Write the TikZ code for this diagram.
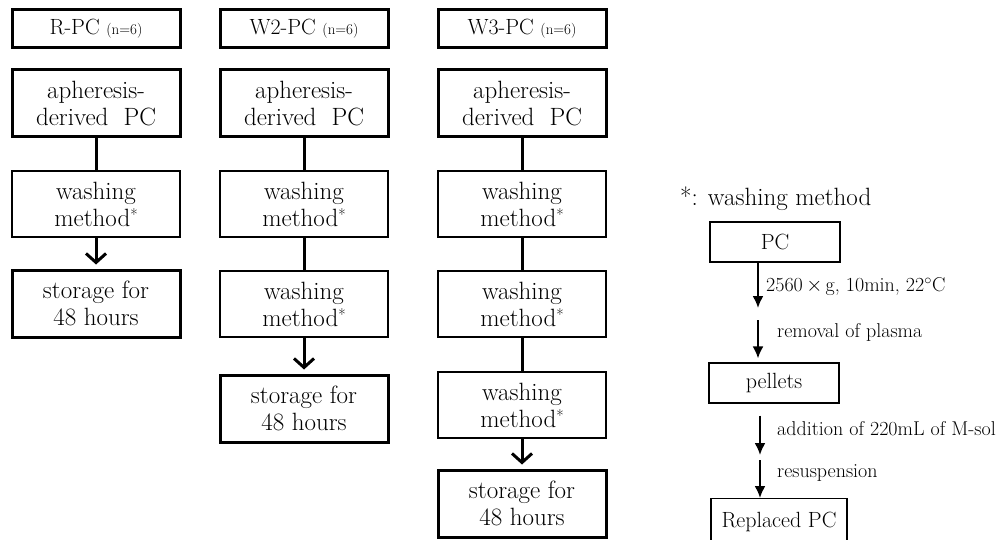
\documentclass[tikz,border=0pt]{standalone}
\usepackage{amsmath}
\usepackage{tikz}
\usetikzlibrary{arrows.meta}
\newcommand{\nsize}{\fontsize{15}{17}\selectfont}
\newcommand{\wstar}{\raisebox{6pt}{\fontsize{16}{16}\selectfont*}}

\begin{document}
\begin{tikzpicture}[x=1pt,y=-1pt,
  headbox/.style={draw,line width=3pt,minimum width=168pt,minimum height=38pt,inner sep=0pt,font=\fontsize{22}{25}\selectfont},
  bigbox/.style={draw,line width=3pt,minimum width=168pt,minimum height=67pt,align=center,inner sep=0pt,font=\fontsize{25}{27}\selectfont},
  washbox/.style={draw,line width=1.2pt,minimum width=168pt,minimum height=66pt,align=center,inner sep=0pt,font=\fontsize{25}{27}\selectfont},
  smallbox/.style={draw,line width=1.2pt,minimum width=130pt,minimum height=40pt,inner sep=0pt,font=\fontsize{22}{24}\selectfont},
  link/.style={line width=3pt},
  linkarr/.style={line width=3pt,-{Straight Barb[length=9pt,width=20pt]},shorten >=4pt},
  steparr/.style={line width=2pt,-{Latex[length=12pt,width=11pt]}},
  steplabel/.style={anchor=west,inner sep=0pt,font=\fontsize{20}{22}\selectfont}]
\useasboundingbox (0,0) rectangle (996,540);
% R-PC
\node[headbox] (rhead) at (96,29) {R-PC \nsize(n=6)};
\node[bigbox] (rsrc) at (96,103.5) {apheresis-\\derived\ \ PC};
\node[washbox] (rwash) at (96,204) {washing\\method\wstar};
\node[bigbox] (rstore) at (96,303.5) {storage for\\48 hours};
\draw[link] (rsrc) -- (rwash);
\draw[linkarr] (rwash) -- (rstore);
% W2-PC
\node[headbox] (wbhead) at (304,29) {W2-PC \nsize(n=6)};
\node[bigbox] (wbsrc) at (304,103.5) {apheresis-\\derived\ \ PC};
\node[washbox] (wbwasha) at (304,204) {washing\\method\wstar};
\node[washbox] (wbwashb) at (304,304) {washing\\method\wstar};
\node[bigbox] (wbstore) at (304,408.5) {storage for\\48 hours};
\draw[link] (wbsrc) -- (wbwasha);
\draw[link] (wbwasha) -- (wbwashb);
\draw[linkarr] (wbwashb) -- (wbstore);
% W3-PC
\node[headbox] (wchead) at (522,29) {W3-PC \nsize(n=6)};
\node[bigbox] (wcsrc) at (522,103.5) {apheresis-\\derived\ \ PC};
\node[washbox] (wcwasha) at (522,204) {washing\\method\wstar};
\node[washbox] (wcwashb) at (522,304) {washing\\method\wstar};
\node[washbox] (wcwashc) at (522,405) {washing\\method\wstar};
\node[bigbox] (wcstore) at (522,503.5) {storage for\\48 hours};
\draw[link] (wcsrc) -- (wcwasha);
\draw[link] (wcwasha) -- (wcwashb);
\draw[link] (wcwashb) -- (wcwashc);
\draw[linkarr] (wcwashc) -- (wcstore);
% washing method
\node[anchor=west,inner sep=0pt,font=\fontsize{25}{27}\selectfont] (key) at (680,199) {*: washing method};
\node[smallbox] (pc) at (775,242) {PC};
\node[smallbox] (pel) at (774,383) {pellets};
\node[smallbox,minimum width=136pt,minimum height=46pt,anchor=north] (rep) at (779,498) {Replaced PC};
\coordinate (spin) at (758,308);
\coordinate (rm) at (758,320);
\coordinate (add) at (760,455);
\coordinate (rs) at (760,460);
\draw[steparr] (pc.south -| spin) -- (spin);
\draw[steparr,shorten >=4pt] (rm) -- (pel.north -| rm);
\draw[steparr,shorten <=12pt] (pel.south -| add) -- (add);
\draw[steparr] (rs) -- (rep.north -| rs);
\node[steplabel] (spinlab) at (766,287) {2560\,$\times$\,g, 10min, 22$^{\circ}$C};
\node[steplabel] (rmlab) at (777,332) {removal of plasma};
\node[steplabel] (addlab) at (777,429) {addition of 220mL of M-sol};
\node[steplabel] (rslab) at (777,473) {resuspension};
\end{tikzpicture}
\end{document}
